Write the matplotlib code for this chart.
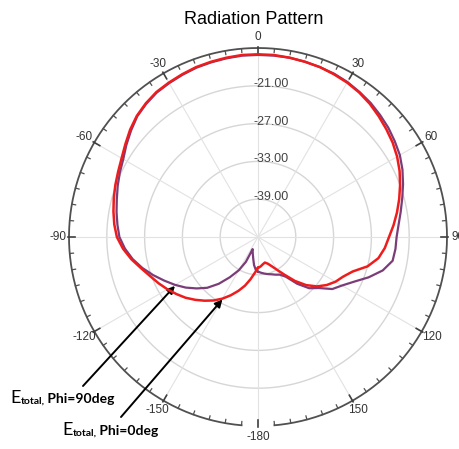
import numpy as np
import matplotlib
matplotlib.use("Agg")
import matplotlib.pyplot as plt
from matplotlib.transforms import IdentityTransform

# ---- data -------------------------------------------------------------
title = "Radiation Pattern"
r_min, r_max = -45, -15
ring_levels = [-39, -33, -27, -21]
angle_labels = [0, 30, 60, 90, 120, 150, -180, -150, -120, -90, -60, -30]

# E_total, Phi = 0 deg  (theta in degrees, gain in dB)
phi0_theta = [-180, -175, -170, -165, -160, -155, -150, -145, -140, -135,
              -130, -125, -120, -115, -110, -105, -100, -95, -90, -85,
              -80, -75, -70, -65, -60, -55, -50, -45, -40, -35,
              -30, -25, -20, -15, -10, -5, 0, 5, 10, 15,
              20, 25, 30, 35, 40, 45, 50, 55, 60, 65,
              70, 75, 80, 85, 90, 95, 100, 105, 110, 115,
              120, 125, 130, 135, 140, 145, 150, 155, 160, 165,
              170, 175, 180]
phi0_db = [-40.1, -39.3, -38.2, -37.0, -35.9, -34.8, -33.7, -32.7, -31.8, -30.9,
           -30.0, -29.2, -28.4, -27.6, -26.8, -25.8, -24.6, -23.5, -22.6, -22.1,
           -21.7, -21.3, -20.9, -20.5, -20.0, -19.3, -18.5, -17.8, -17.3, -16.9,
           -16.7, -16.5, -16.3, -16.2, -16.1, -16.0, -16.0, -16.0, -16.1, -16.2,
           -16.3, -16.5, -16.7, -17.0, -17.4, -17.9, -18.4, -18.9, -19.5, -20.2,
           -21.0, -21.8, -22.6, -23.4, -24.2, -24.8, -25.6, -27.0, -29.0, -30.1,
           -30.8, -31.7, -32.8, -34.2, -35.9, -37.7, -39.0, -39.9, -40.5, -40.8,
           -40.6, -40.3, -40.1]

# E_total, Phi = 90 deg
phi90_theta = [-180, -176, -172, -168, -162, -156, -155, -154, -150, -145,
               -140, -135, -130, -125, -120, -115, -110, -105, -100, -95,
               -90, -85, -80, -75, -70, -65, -60, -55, -50, -45,
               -40, -35, -30, -25, -20, -15, -10, -5, 0, 5,
               10, 15, 20, 25, 30, 35, 40, 45, 50, 55,
               60, 65, 70, 75, 80, 85, 90, 95, 100, 105,
               110, 115, 120, 125, 130, 135, 140, 145, 150, 155,
               160, 165, 170, 175, 180]
phi90_db = [-39.5, -39.8, -40.5, -41.4, -42.3, -42.9, -42.0, -40.6, -38.9, -37.2,
            -35.3, -33.6, -32.3, -31.0, -29.8, -28.6, -27.3, -26.0, -24.8, -23.8,
            -23.0, -22.6, -22.2, -21.8, -21.3, -20.8, -20.3, -19.5, -18.7, -17.9,
            -17.4, -17.0, -16.8, -16.6, -16.4, -16.3, -16.2, -16.1, -16.1, -16.1,
            -16.1, -16.2, -16.3, -16.4, -16.6, -16.9, -17.2, -17.6, -18.0, -18.5,
            -19.0, -19.7, -20.5, -21.3, -22.0, -22.6, -23.0, -23.1, -23.3, -24.5,
            -26.3, -28.2, -29.6, -30.6, -32.4, -33.5, -35.3, -37.3, -38.1, -38.4,
            -38.7, -38.9, -39.1, -39.3, -39.5]

# ---- figure -----------------------------------------------------------
W, H, DPI = 459, 449, 100
fig = plt.figure(figsize=(W / DPI, H / DPI), dpi=DPI)
cx, cy, R = 258, 237, 189  # plot centre and radius in pixels (from top-left)
ax = fig.add_axes([(cx - R) / W, (H - cy - R) / H, 2 * R / W, 2 * R / H],
                  projection="polar")
ax.set_theta_zero_location("N")
ax.set_theta_direction(-1)
ax.set_ylim(r_min, r_max)
ax.grid(False)
ax.set_xticks([])
ax.set_yticks([])
ax.spines["polar"].set_visible(False)
ax.patch.set_alpha(0)

full = np.linspace(0, 2 * np.pi, 721)
grid_col = "#d6d6d6"
for lev in ring_levels:
    ax.plot(full, np.full_like(full, lev), color=grid_col, lw=1.0, zorder=1)
for a in range(0, 360, 30):
    ax.plot([np.deg2rad(a)] * 2, [r_min, r_max], color="#e2e2e2", lw=0.8, zorder=1)

# outer scale circle (open around -180) with 5 degree ticks
arc = np.deg2rad(np.linspace(-175, 175, 800))
ax.plot(arc, np.full_like(arc, r_max), color="#505050", lw=1.3, clip_on=False, zorder=3)
for a in range(-180, 180, 5):
    t = np.deg2rad(a)
    if a % 30 == 0:
        ax.plot([t, t], [r_max - 1.0, r_max + 0.2], color="#404040", lw=1.2,
                clip_on=False, zorder=3)
    else:
        ax.plot([t, t], [r_max - 0.6, r_max], color="#505050", lw=0.9,
                clip_on=False, zorder=3)

for a in angle_labels:
    ax.text(np.deg2rad(a), r_max + 1.8, str(a), ha="center", va="center",
            fontsize=8.5, color="#333333", family="Liberation Sans", clip_on=False)

for lev in ring_levels:
    ax.annotate(f"{lev:.2f}", xy=(0, lev), xytext=(13, 2), textcoords="offset pixels",
                ha="center", va="center", fontsize=9, color="#444444",
                family="Liberation Sans", zorder=4)

# pattern curves
ax.plot(np.deg2rad(phi90_theta), phi90_db, color="#7b3c78", lw=1.6, zorder=5,
        clip_on=False)
ax.plot(np.deg2rad(phi0_theta), phi0_db, color="#ee1c1c", lw=1.8, zorder=6,
        clip_on=False)

fig.text(254 / W, 1 - 20 / H, title, ha="center", va="center", fontsize=13,
         family="Liberation Sans", color="black")

# arrows pointing to each curve
arrow_kw = dict(arrowstyle="-|>", color="black", lw=1.4, mutation_scale=11,
                shrinkA=0, shrinkB=0)
ax.annotate("", xy=(np.deg2rad(-120.5), -29.7), xycoords="data",
            xytext=(83, H - 386), textcoords="figure pixels",
            arrowprops=arrow_kw, annotation_clip=False)
ax.annotate("", xy=(np.deg2rad(-150.3), -33.6), xycoords="data",
            xytext=(121, H - 417), textcoords="figure pixels",
            arrowprops=arrow_kw, annotation_clip=False)

# curve labels: large E, small bold subscript, bold remainder
renderer = fig.canvas.get_renderer()


def label(x, y_top, parts):
    y = H - y_top
    for s, size, weight, dy in parts:
        t = fig.text(x, y + dy, s, fontsize=size, fontweight=weight, family="Lato",
                     ha="left", va="baseline", transform=IdentityTransform())
        x = t.get_window_extent(renderer).x1


label(10, 403, [("E", 13, "normal", 0), ("total,", 7.5, "bold", -1),
                (" Phi=90deg", 10, "bold", 0)])
label(62, 435, [("E", 13, "normal", 0), ("total,", 7.5, "bold", -1),
                (" Phi=0deg", 10, "bold", 0)])

fig.savefig("out.png", dpi=DPI)
